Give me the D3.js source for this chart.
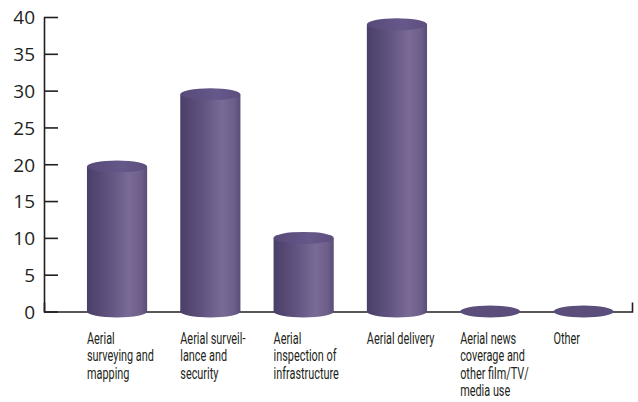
<!DOCTYPE html>
<html>
<head>
<meta charset="utf-8">
<script src="https://cdn.jsdelivr.net/npm/d3@7/dist/d3.min.js"></script>
<style>
  html, body { margin: 0; padding: 0; background: #ffffff; }
  svg { display: block; }
  .cat { font-family: "Roboto", "Noto Sans", sans-serif; font-size: 16.5px; fill: #231f20; }
</style>
</head>
<body>
<svg id="chart" width="638" height="402"></svg>
<script>
// Drone use categories and their values
const categories = [
  "Aerial surveying and mapping",
  "Aerial surveillance and security",
  "Aerial inspection of infrastructure",
  "Aerial delivery",
  "Aerial news coverage and other film/TV/media use",
  "Other"
];
const values = [19.7, 29.5, 10, 39, 0, 0];
const labelLines = [
  ["Aerial", "surveying and", "mapping"],
  ["Aerial surveil-", "lance and", "security"],
  ["Aerial", "inspection of", "infrastructure"],
  ["Aerial delivery"],
  ["Aerial news", "coverage and", "other film/TV/", "media use"],
  ["Other"]
];
const yTicks = [0, 5, 10, 15, 20, 25, 30, 35, 40];

const svg = d3.select("#chart");

const y = d3.scaleLinear().domain([0, 40]).range([311.5, 17]);
const x = d3.scaleBand()
  .domain(categories)
  .range([68.3, 632.3])
  .paddingInner(0.355)
  .paddingOuter(0.2);
const xLine = d3.scaleLinear().domain([0, 1]).range([44, 632]);

// Gradients for the cylinder bodies and caps
const defs = svg.append("defs");
const body = defs.append("linearGradient").attr("id", "body")
  .attr("x1", "0").attr("x2", "1").attr("y1", "0").attr("y2", "0");
body.append("stop").attr("offset", "0%").attr("stop-color", "#4a3f68");
body.append("stop").attr("offset", "35%").attr("stop-color", "#5f527f");
body.append("stop").attr("offset", "70%").attr("stop-color", "#7a6b96");
body.append("stop").attr("offset", "90%").attr("stop-color", "#6c5d89");
body.append("stop").attr("offset", "100%").attr("stop-color", "#5a4d78");

const cap = defs.append("linearGradient").attr("id", "cap")
  .attr("x1", "0").attr("x2", "1").attr("y1", "0").attr("y2", "0");
cap.append("stop").attr("offset", "0%").attr("stop-color", "#574a78");
cap.append("stop").attr("offset", "60%").attr("stop-color", "#66588a");
cap.append("stop").attr("offset", "100%").attr("stop-color", "#5c4f7e");

// X axis line with a short upward tick at its right end
const xAxis = d3.axisBottom(xLine).tickValues([]).tickSizeOuter(-9);
svg.append("g")
  .attr("transform", `translate(0,${y(0)})`)
  .call(xAxis)
  .call(g => g.select(".domain").attr("stroke", "#231f20").attr("stroke-width", 1.6));

// Y axis with inward ticks
const yAxis = d3.axisLeft(y).tickValues(yTicks).tickSize(-14).tickPadding(9).tickSizeOuter(0);
svg.append("g")
  .attr("transform", "translate(44,0)")
  .call(yAxis)
  .call(g => g.select(".domain").attr("stroke", "#231f20").attr("stroke-width", 1.6))
  .call(g => g.selectAll(".tick line").attr("stroke", "#231f20").attr("stroke-width", 1.6))
  .call(g => g.selectAll(".tick text").attr("fill", "#231f20").attr("dy", "0.36em")
    .style("font-family", "'Open Sans', 'Noto Sans', sans-serif").style("font-size", "19px"));

// Cylinders
const ry = 6;
const bars = svg.append("g").selectAll("g.bar")
  .data(categories.map((c, i) => ({ c, v: values[i] })))
  .join("g").attr("class", "bar");

bars.each(function(d) {
  const g = d3.select(this);
  const cx = x(d.c) + x.bandwidth() / 2;
  const rx = x.bandwidth() / 2;
  if (d.v > 0) {
    g.append("ellipse")
      .attr("cx", cx).attr("cy", y(0)).attr("rx", rx).attr("ry", ry)
      .attr("fill", "url(#body)");
    g.append("rect")
      .attr("x", x(d.c)).attr("y", y(d.v))
      .attr("width", x.bandwidth()).attr("height", y(0) - y(d.v))
      .attr("fill", "url(#body)");
    g.append("ellipse")
      .attr("cx", cx).attr("cy", y(d.v)).attr("rx", rx).attr("ry", ry)
      .attr("fill", "url(#cap)");
  } else {
    g.append("ellipse")
      .attr("cx", cx).attr("cy", y(0)).attr("rx", rx).attr("ry", ry)
      .attr("fill", "#5b4e7b");
  }
});

// Category labels, condensed and left-aligned under each cylinder
const labels = svg.append("g").selectAll("g.cat")
  .data(categories)
  .join("g")
  .attr("transform", d => `translate(${x(d)},344) scale(0.66,1)`);
labels.append("text")
  .attr("class", "cat")
  .each(function(d, i) {
    d3.select(this).selectAll("tspan")
      .data(labelLines[i])
      .join("tspan")
      .attr("x", 0)
      .attr("dy", (t, j) => j === 0 ? 0 : 17.5)
      .text(t => t);
  });
</script>
</body>
</html>
